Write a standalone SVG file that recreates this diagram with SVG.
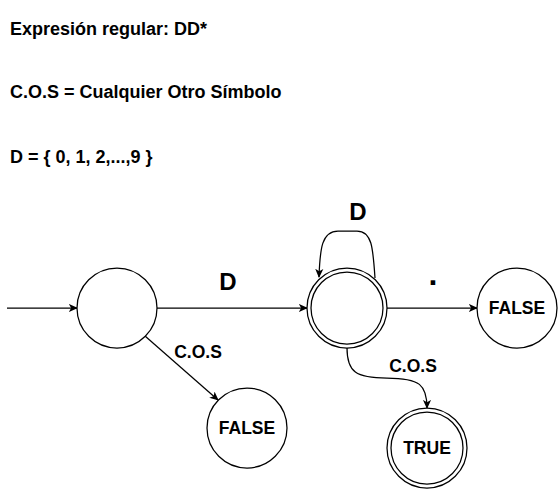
<svg xmlns="http://www.w3.org/2000/svg" width="558" height="490" viewBox="0 0 558 490">
<style>
.t{font-family:"Liberation Sans",Arial,sans-serif;font-weight:bold;fill:#000;}
.s{fill:#fff;stroke:#000;stroke-width:1.25;}
.e{fill:none;stroke:#000;stroke-width:1.25;}
</style>
<defs>
<marker id="a" viewBox="0 0 10 10" refX="9" refY="5" markerWidth="9" markerHeight="9" markerUnits="userSpaceOnUse" orient="auto">
<path d="M0,0.5 L10,5 L0,9.5 L2.5,5 Z" fill="#000"/>
</marker>
</defs>
<rect width="558" height="490" fill="#fff"/>
<g id="texts">
<text class="t" x="10" y="35" font-size="18">Expresión regular: DD*</text>
<text class="t" x="10" y="98" font-size="18">C.O.S = Cualquier Otro Símbolo</text>
<text class="t" x="10" y="163" font-size="18">D = { 0, 1, 2,...,9 }</text>
</g>
<g id="edges">
<path class="e" d="M7,308 L77,308" marker-end="url(#a)"/>
<path class="e" d="M157,308 L307,308" marker-end="url(#a)"/>
<path class="e" d="M375,278 C373,248 372,231 357,231 L338,231 C322,231 320,248 319,277" marker-end="url(#a)"/>
<path class="e" d="M387,308 L477,308" marker-end="url(#a)"/>
<path class="e" d="M145,336 L218,400" marker-end="url(#a)"/>
<path class="e" d="M347,348 C347,372 356,378 387,378 C420,378 427,385 427,408" marker-end="url(#a)"/>
<text class="t" x="228" y="290" font-size="24" text-anchor="middle">D</text>
<text class="t" x="358" y="220" font-size="24" text-anchor="middle">D</text>
<text class="t" x="433" y="285" font-size="32" text-anchor="middle">.</text>
<text class="t" x="198" y="358" font-size="17.5" text-anchor="middle">C.O.S</text>
<text class="t" x="413" y="372" font-size="17.5" text-anchor="middle">C.O.S</text>
</g>
<g id="q0"><circle class="s" cx="117" cy="308" r="40"/></g>
<g id="q1"><circle class="s" cx="347" cy="308" r="40"/><circle class="s" cx="347" cy="308" r="36"/></g>
<g id="false1"><circle class="s" cx="517" cy="308" r="40"/><text class="t" x="517" y="314" font-size="17.5" text-anchor="middle">FALSE</text></g>
<g id="false2"><circle class="s" cx="247" cy="428" r="40"/><text class="t" x="247" y="434" font-size="17.5" text-anchor="middle">FALSE</text></g>
<g id="true"><circle class="s" cx="427" cy="448" r="40"/><circle class="s" cx="427" cy="448" r="36"/><text class="t" x="427" y="454" font-size="17.5" text-anchor="middle">TRUE</text></g>
</svg>
